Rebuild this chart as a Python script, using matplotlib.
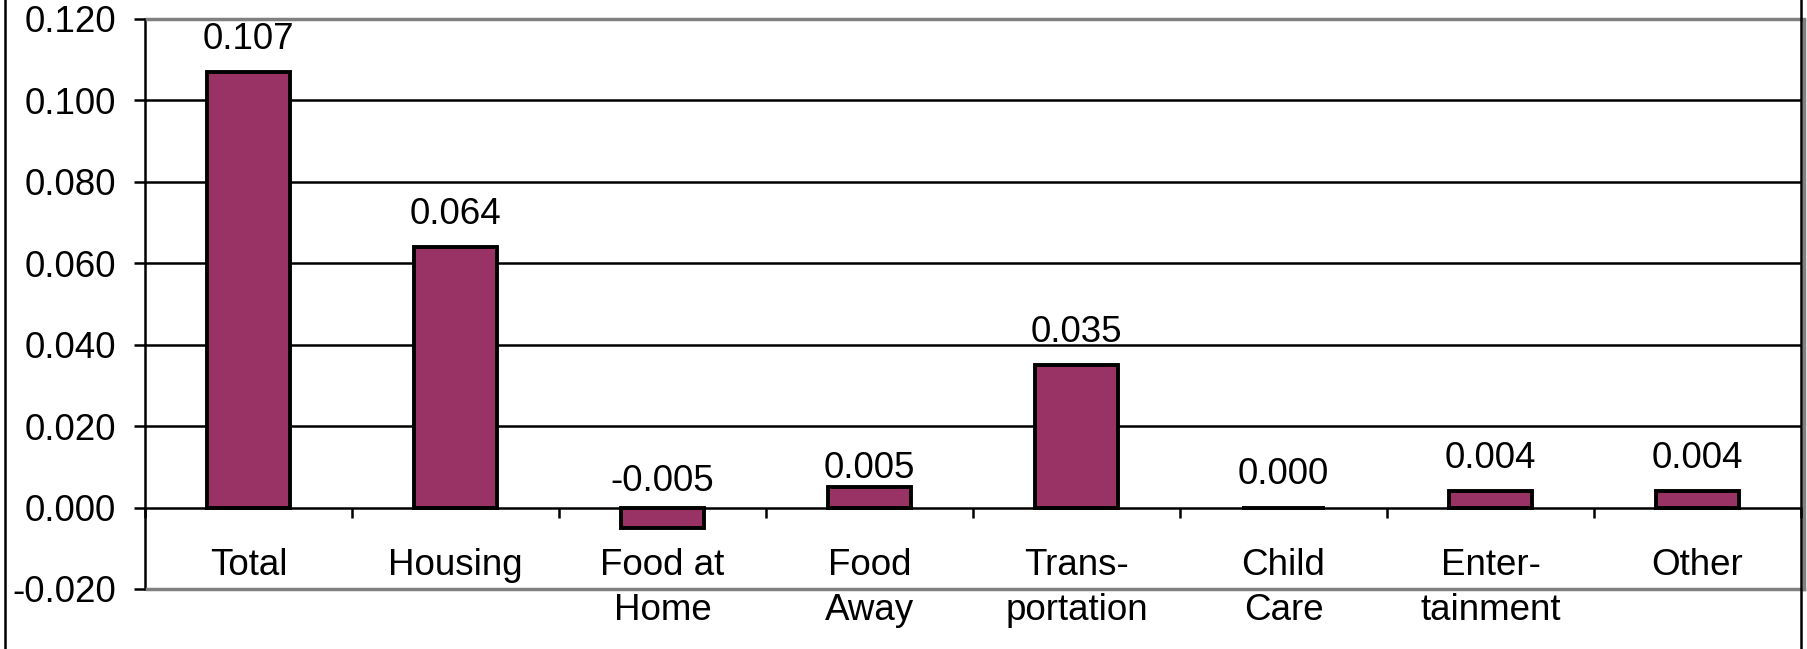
import numpy as np
import matplotlib.pyplot as plt
from matplotlib.lines import Line2D

plt.rcParams['font.family'] = ['Liberation Sans', 'DejaVu Sans']

# 数据：各项支出的变化
categories = ['Total', 'Housing', 'Food at\nHome', 'Food\nAway', 'Trans-\nportation',
              'Child\nCare', 'Enter-\ntainment', 'Other']
values = [0.107, 0.064, -0.005, 0.005, 0.035, 0.000, 0.004, 0.004]
yticks = [-0.020, 0.000, 0.020, 0.040, 0.060, 0.080, 0.100, 0.120]

W, H = 1807, 649
fig = plt.figure(figsize=(W / 100, H / 100), dpi=100)
# 绘图区位置（像素）
left, right, top, bottom = 145, 1801, 19, 589
ax = fig.add_axes([left / W, 1 - bottom / H, (right - left) / W, (bottom - top) / H])

fs = 26.5
bar_color = '#993366'
x = np.arange(len(categories))

# 网格线
for yv in yticks[2:-1]:
    ax.axhline(yv, color='black', lw=1.8, zorder=1)

ax.bar(x, values, width=0.4, color=bar_color, edgecolor='black', linewidth=2.8, zorder=3)

# 数据标签（个别标签手动微调了位置）
nudge = {2: -5, 3: -10}
for i, (xi, v) in enumerate(zip(x, values)):
    ax.annotate(f'{v:.3f}', (xi, max(v, 0)), xytext=(0, 23.5 + nudge.get(i, 0)),
                textcoords='offset points', ha='center', va='center', fontsize=fs)

ax.set_xlim(-0.5, len(categories) - 0.5)
ax.set_ylim(-0.02, 0.12)
ax.set_yticks(yticks)
ax.set_yticklabels([f'{t:.3f}' for t in yticks])
ax.tick_params(axis='y', length=8, width=1.8, pad=13, labelsize=fs, direction='out')

# 横轴放在0处，刻度在类别之间
ax.spines['bottom'].set_position(('data', 0))
ax.spines['bottom'].set_linewidth(1.8)
ax.set_xticks(np.arange(len(categories) + 1) - 0.5)
ax.set_xticklabels([])
ax.set_xticks(x, minor=True)
ax.set_xticklabels(categories, minor=True, fontsize=fs, linespacing=1.38)
ax.tick_params(axis='x', which='major', length=7, width=1.8, direction='out')
ax.tick_params(axis='x', which='minor', length=0, pad=29)

ax.spines['left'].set_linewidth(1.8)
for s in ['top', 'right']:
    ax.spines[s].set_visible(False)

# 绘图区灰色边框
gray = '#808080'
fig.add_artist(Line2D([(left + 2) / W, (right + 3) / W], [1 - top / H] * 2, color=gray, lw=2.5))
fig.add_artist(Line2D([(left + 2) / W, (right + 3) / W], [1 - bottom / H] * 2, color=gray, lw=2.5))
fig.add_artist(Line2D([(right + 3) / W] * 2, [1 - (top + 2) / H, 1 - bottom / H], color=gray, lw=2.5))

# 外框
fig.add_artist(Line2D([4.5 / W] * 2, [0, 1], color='black', lw=1.8))
fig.add_artist(Line2D([1801 / W] * 2, [0, 1], color='black', lw=1.8))

fig.savefig('out.png', dpi=100, facecolor='white')
